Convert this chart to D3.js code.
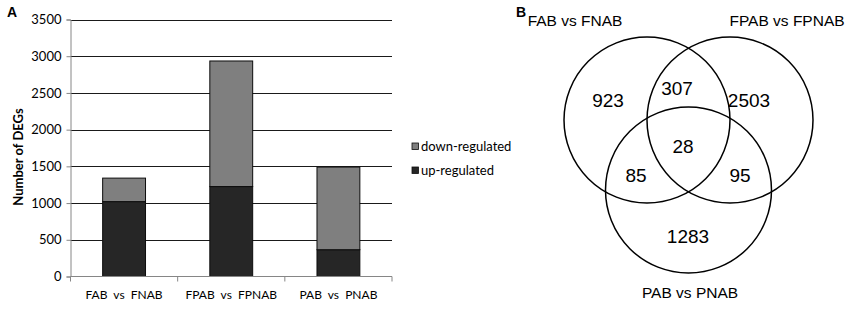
<!DOCTYPE html>
<html>
<head>
<meta charset="utf-8">
<script src="https://cdn.jsdelivr.net/npm/d3@7"></script>
<style>
  body { margin: 0; background: #fff; }
  svg { display: block; }
</style>
</head>
<body>
<div id="chart"></div>
<script>
// bar chart data (panel A)
const categories = ["FAB  vs  FNAB", "FPAB  vs  FPNAB", "PAB  vs  PNAB"];
const upRegulated = [1020, 1225, 365];
const downRegulated = [320, 1710, 1125];
const yTicks = [0, 500, 1000, 1500, 2000, 2500, 3000, 3500];
const seriesNames = ["down-regulated", "up-regulated"];

// venn data (panel B)
const setNames = ["FAB vs FNAB", "FPAB vs FPNAB", "PAB vs PNAB"];
const regionKeys = ["A", "B", "C", "AB", "AC", "BC", "ABC"];
const regionCounts = [923, 2503, 1283, 307, 85, 95, 28];

const W = 856, H = 309;
const svg = d3.select("#chart").append("svg")
    .attr("width", W)
    .attr("height", H);

// ---------- panel A ----------
const calibri = "Lato, 'Open Sans', sans-serif";
const plotL = 70.5, plotR = 392, plotT = 19.5, plotB = 276.5;

const x = d3.scaleBand()
    .domain(categories)
    .range([plotL, plotR])
    .paddingInner(0.6)
    .paddingOuter(0.3);

const y = d3.scaleLinear()
    .domain([0, 3500])
    .range([plotB, plotT]);

const gA = svg.append("g");

// gridlines
gA.selectAll(".grid")
    .data(yTicks.filter(d => d > 0))
    .enter().append("line")
    .attr("x1", plotL).attr("x2", plotR)
    .attr("y1", d => Math.round(y(d)) + 0.5)
    .attr("y2", d => Math.round(y(d)) + 0.5)
    .attr("stroke", "#1a1a1a")
    .attr("stroke-width", 1);

// stacked bars
const rows = categories.map((c, i) => ({cat: c, up: upRegulated[i], down: downRegulated[i]}));
const stack = d3.stack().keys(["up", "down"]);
const layers = stack(rows);
const fills = {up: "#262626", down: "#7f7f7f"};

gA.selectAll(".layer")
    .data(layers)
    .enter().append("g")
    .attr("fill", d => fills[d.key])
    .selectAll("rect")
    .data(d => d)
    .enter().append("rect")
    .attr("x", d => x(d.data.cat))
    .attr("width", x.bandwidth())
    .attr("y", d => y(d[1]))
    .attr("height", d => y(d[0]) - y(d[1]))
    .attr("stroke", "#0d0d0d")
    .attr("stroke-width", 1);

// y axis
const yAxis = d3.axisLeft(y)
    .tickValues(yTicks)
    .tickFormat(d3.format("d"))
    .tickSize(4)
    .tickPadding(5);
const ya = gA.append("g")
    .attr("transform", `translate(${plotL},0)`)
    .call(yAxis);
ya.select(".domain").attr("stroke", "#868686");
ya.selectAll(".tick line").attr("stroke", "#868686");
ya.selectAll(".tick text")
    .attr("font-family", calibri)
    .attr("font-size", 13)
    .attr("fill", "#000");

// x axis with boundary ticks
gA.append("line")
    .attr("x1", plotL).attr("x2", plotR)
    .attr("y1", plotB).attr("y2", plotB)
    .attr("stroke", "#868686");
const bounds = d3.range(categories.length + 1).map(i => plotL + i * x.step());
gA.selectAll(".xtick")
    .data(bounds)
    .enter().append("line")
    .attr("x1", d => d).attr("x2", d => d)
    .attr("y1", plotB).attr("y2", plotB + 5)
    .attr("stroke", "#868686");
gA.selectAll(".xlabel")
    .data(categories)
    .enter().append("text")
    .attr("x", d => x(d) + x.bandwidth() / 2)
    .attr("y", 299)
    .attr("text-anchor", "middle")
    .attr("font-family", calibri)
    .attr("font-size", 12)
    .attr("fill", "#000")
    .style("white-space", "pre")
    .text(d => d);

// y label
gA.append("text")
    .attr("transform", "translate(23,157) rotate(-90)")
    .attr("text-anchor", "middle")
    .attr("font-family", calibri)
    .attr("font-weight", "bold")
    .attr("font-size", 13)
    .text("Number of DEGs");

// legend
const legend = gA.selectAll(".legend")
    .data(seriesNames)
    .enter().append("g")
    .attr("transform", (d, i) => `translate(412,${146.5 + i * 24})`);
legend.append("rect")
    .attr("x", 0).attr("y", -3.5)
    .attr("width", 6.5).attr("height", 6.5)
    .attr("fill", d => d === "up-regulated" ? fills.up : fills.down)
    .attr("stroke", "#0d0d0d")
    .attr("stroke-width", 0.8);
legend.append("text")
    .attr("x", 9).attr("y", 4.5)
    .attr("font-family", calibri)
    .attr("font-size", 13)
    .text(d => d);

// panel letter
svg.append("text")
    .attr("x", 7).attr("y", 17)
    .attr("font-family", "Arial, 'Liberation Sans', sans-serif")
    .attr("font-weight", "bold")
    .attr("font-size", 14)
    .text("A");

// ---------- panel B ----------
const arial = "Arial, 'Liberation Sans', sans-serif";
const gB = svg.append("g");

const circles = [
    {name: setNames[0], cx: 647, cy: 120, r: 83},
    {name: setNames[1], cx: 730, cy: 120, r: 83},
    {name: setNames[2], cx: 688.5, cy: 190, r: 83}
];

gB.selectAll("circle")
    .data(circles)
    .enter().append("circle")
    .attr("cx", d => d.cx)
    .attr("cy", d => d.cy)
    .attr("r", d => d.r)
    .attr("fill", "none")
    .attr("stroke", "#000")
    .attr("stroke-width", 1.5);

const regionPos = {
    A: [608, 107], B: [749, 107], C: [688, 243],
    AB: [677, 95], AC: [636, 182], BC: [740, 182], ABC: [683, 153]
};
gB.selectAll(".count")
    .data(regionKeys.map((k, i) => ({key: k, n: regionCounts[i]})))
    .enter().append("text")
    .attr("x", d => regionPos[d.key][0])
    .attr("y", d => regionPos[d.key][1])
    .attr("text-anchor", "middle")
    .attr("font-family", arial)
    .attr("font-size", 19)
    .text(d => d.n);

const labelPos = [[575, 26], [787, 26], [690, 298]];
gB.selectAll(".setlabel")
    .data(setNames)
    .enter().append("text")
    .attr("x", (d, i) => labelPos[i][0])
    .attr("y", (d, i) => labelPos[i][1])
    .attr("text-anchor", "middle")
    .attr("font-family", arial)
    .attr("font-size", 15.5)
    .text(d => d);

svg.append("text")
    .attr("x", 516).attr("y", 17)
    .attr("font-family", arial)
    .attr("font-weight", "bold")
    .attr("font-size", 14)
    .text("B");
</script>
</body>
</html>
